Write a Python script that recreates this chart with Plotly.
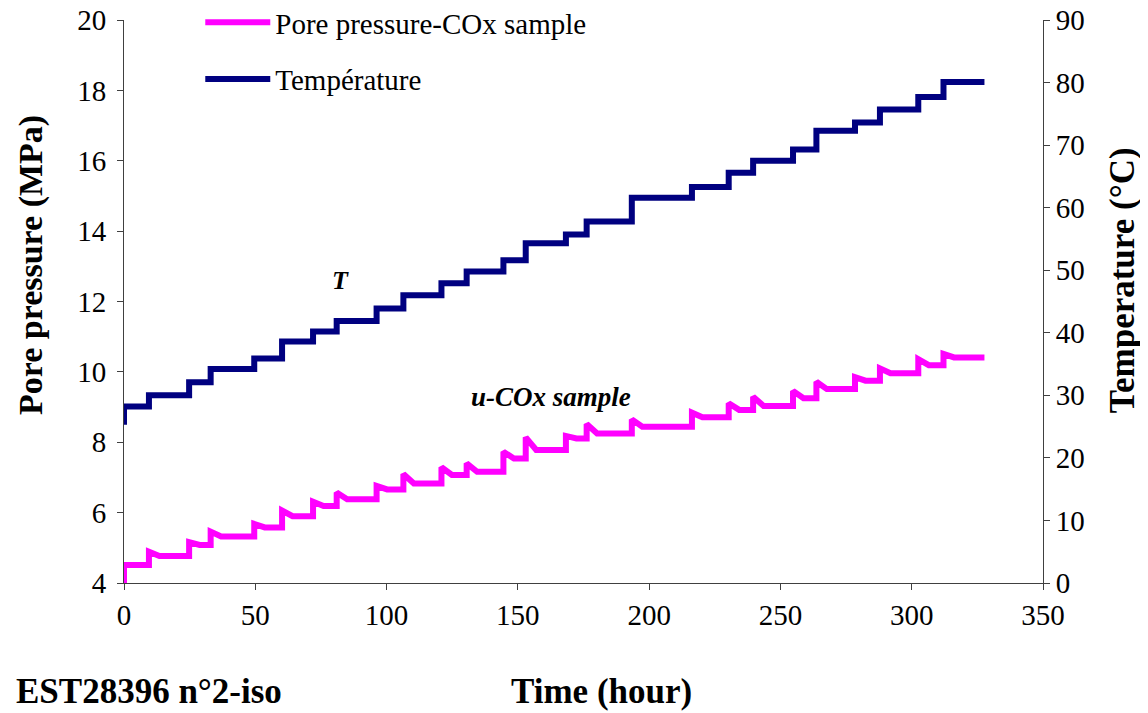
import plotly.graph_objects as go

# step times (hour) where temperature was raised
step_times = [0, 9.5, 24.8, 33, 49.6, 60.2, 72, 81, 96.2, 106.4, 120.9, 130.5, 144.5,
              153, 168.3, 176.2, 193.4, 216.3, 230.3, 239.6, 254.8, 263.7, 278.4,
              287.9, 302.5, 312.1]
end_time = 327.7

# temperature plateaus (°C)
temp_start = 25.3
temp_levels = [28.2, 30.0, 32.1, 34.2, 35.9, 38.6, 40.2, 41.9, 43.9, 46.0, 47.9, 49.8,
               51.6, 54.3, 55.7, 57.8, 61.6, 63.3, 65.6, 67.5, 69.3, 72.3, 73.6, 75.7,
               77.7, 80.1]

# pore pressure (MPa): peak after each step and value at the end of the plateau
pres_start = 4.0
pres_peak = [4.51, 4.89, 5.16, 5.46, 5.68, 6.06, 6.31, 6.57, 6.76, 7.10, 7.29, 7.40,
             7.73, 8.14, 8.18, 8.52, 8.65, 8.84, 9.11, 9.29, 9.46, 9.72, 9.85, 10.10,
             10.36, 10.51]
pres_end = [4.51, 4.77, 5.08, 5.32, 5.58, 5.90, 6.19, 6.38, 6.66, 6.83, 7.07, 7.16,
            7.54, 7.78, 8.11, 8.25, 8.44, 8.71, 8.92, 9.03, 9.25, 9.51, 9.75, 9.96,
            10.19, 10.41]

FONT = "Liberation Serif"
decay = 4  # hours over which the overshoot relaxes

bounds = step_times[1:] + [end_time]

t_T, v_T = [0], [temp_start]
for t0, t1, lv in zip(step_times, bounds, temp_levels):
    t_T += [t0, t1]
    v_T += [lv, lv]

t_P, v_P = [0], [pres_start]
for t0, t1, pk, pe in zip(step_times, bounds, pres_peak, pres_end):
    t_P += [t0, min(t0 + decay, t1), t1]
    v_P += [pk, pe, pe]

fig = go.Figure()

fig.add_trace(go.Scatter(
    x=t_P, y=v_P, name="Pore pressure-COx sample", mode="lines",
    line=dict(color="#FF00FF", width=6), legendgroup="a"))

fig.add_trace(go.Scatter(
    x=t_T, y=v_T, name="Température", mode="lines", yaxis="y2",
    line=dict(color="#000080", width=6), legendgroup="b"))

axis_common = dict(
    showgrid=False, zeroline=False, showline=True, linecolor="#404040", linewidth=1,
    ticks="outside", ticklen=6, tickcolor="#404040", ticklabeloverflow="allow",
    tickfont=dict(family=FONT, size=29, color="black"))

fig.update_layout(
    width=1140, height=705,
    margin=dict(l=116, r=105, t=12, b=130, autoexpand=False),
    plot_bgcolor="white", paper_bgcolor="white",
    font=dict(family=FONT, color="black"),
    xaxis=dict(range=[0, 350], dtick=50, **axis_common),
    yaxis=dict(range=[4, 20], dtick=2, ticklabelstandoff=5, **axis_common),
    yaxis2=dict(range=[0, 90], dtick=10, overlaying="y", side="right", **axis_common),
    legend=dict(x=0.083, y=1.041, xanchor="left", yanchor="top",
                font=dict(family=FONT, size=29), bgcolor="rgba(0,0,0,0)",
                traceorder="grouped", tracegroupgap=16, itemwidth=65),
    showlegend=True,
)

annotations = [
    dict(text="<b>Pore pressure (MPa)</b>", x=-0.101, y=0.565, xref="paper", yref="paper",
         xanchor="center", yanchor="middle",
         textangle=-90, font=dict(size=34), showarrow=False),
    dict(text="<b>Temperature (°C)</b>", x=1.086, y=0.538, xref="paper", yref="paper",
         xanchor="center", yanchor="middle",
         textangle=-90, font=dict(size=35), showarrow=False),
    dict(text="<b>Time (hour)</b>", x=0.52, y=-0.193, xref="paper", yref="paper",
         xanchor="center", yanchor="middle", font=dict(size=35), showarrow=False),
    dict(text="<b>EST28396 n°2-iso</b>", x=-0.12, y=-0.193, xref="paper", yref="paper",
         xanchor="left", yanchor="middle", font=dict(size=35), showarrow=False),
    dict(text="<b><i>T</i></b>", x=82.4, y=12.6, xref="x", yref="y",
         font=dict(size=26), showarrow=False),
    dict(text="<b><i>u-COx sample</i></b>", x=162.6, y=9.3, xref="x", yref="y",
         font=dict(size=27), showarrow=False),
]
fig.update_layout(annotations=annotations)

fig.write_html("out.html")
